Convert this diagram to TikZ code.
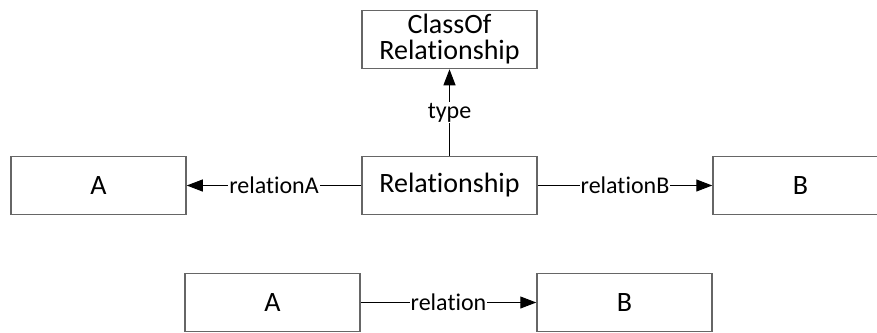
\documentclass[tikz,border=0pt]{standalone}
\usepackage{fontspec}
\setmainfont{Carlito}[Ligatures=CommonOff]
\usetikzlibrary{arrows.meta}
\begin{document}
\begin{tikzpicture}[x=1pt,y=-1pt,
  box/.style={draw=black!60, line width=1.5pt, minimum width=175pt, minimum height=58pt, inner sep=0pt, align=center, font=\fontsize{28}{26}\selectfont},
  lbl/.style={fill=white, inner sep=1pt, font=\fontsize{24}{28}\selectfont},
  arr/.style={draw, line width=1pt, -{Triangle[length=16pt,width=12pt]}}]
\useasboundingbox (0,0) rectangle (877,332);
\node[box] (Cls) at (449.5,39.5) {ClassOf\\Relationship};
\node[box] (Rel) at (449.5,185.5) {Relationship};
\node[box] (A1) at (98.5,185.5) {A};
\node[box] (B1) at (800.5,185.5) {B};
\node[box] (A2) at (272.5,302.5) {A};
\node[box] (B2) at (624.5,302.5) {B};

\path[arr] (Rel) -- node[lbl] {type} (Cls);
\path[arr] (Rel) -- node[lbl] {relationA} (A1);
\path[arr] (Rel) -- node[lbl] {relationB} (B1);
\path[arr] (A2) -- node[lbl] {relation} (B2);
\end{tikzpicture}
\end{document}
